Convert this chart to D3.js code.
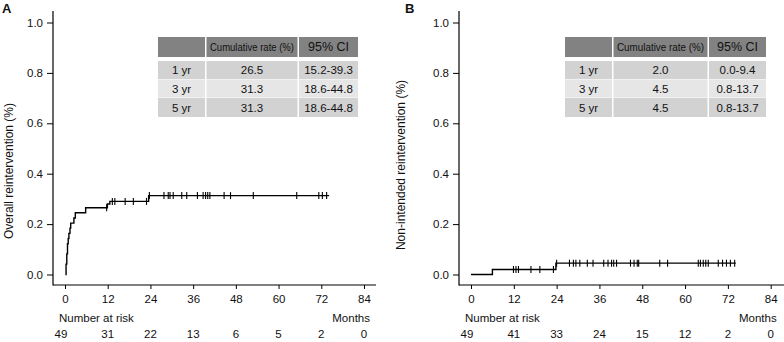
<!DOCTYPE html>
<html lang="en">
<head>
<meta charset="UTF-8">
<title>Cumulative reintervention</title>
<script src="https://d3js.org/d3.v7.min.js"></script>
<style>
    body {margin: 0; background: #fff;}
    svg {display: block;}
    text {font-family: "Liberation Sans", Arial, sans-serif; fill: #111;}
</style>
</head>
<body>
<script>
    const width = 784;
    const height = 342;

    // shared axes
    const monthTicks = [0, 12, 24, 36, 48, 60, 72, 84];
    const yTicks = [0, 0.2, 0.4, 0.6, 0.8, 1.0];
    const rowLabels = ["1 yr", "3 yr", "5 yr"];
    const tableHeader = ["", "Cumulative rate (%)", "95% CI"];

    // panel A - overall reintervention
    const eventTimesA = [0.1, 0.3, 0.5, 0.7, 0.9, 1.1, 1.4, 1.6, 2.5, 2.9, 5.8, 11.9, 12.6, 23.5];
    const cumIncA = [0, 0.041, 0.082, 0.122, 0.143, 0.163, 0.184, 0.204, 0.224, 0.245, 0.265, 0.28, 0.29, 0.313];
    const lastTimeA = 74.2;
    const censorA = [11.7, 13.3, 14.0, 16.9, 19.2, 22.9, 23.7, 27.8, 29.0, 29.5, 30.4, 32.8, 34.2, 37.2,
                     38.8, 39.5, 40.1, 40.7, 44.7, 46.5, 52.9, 65.1, 71.3, 72.3, 73.5];
    const riskA = [49, 31, 22, 13, 6, 5, 2, 0];
    const rateA = ["26.5", "31.3", "31.3"];
    const ciA = ["15.2-39.3", "18.6-44.8", "18.6-44.8"];

    // panel B - non-intended reintervention
    const eventTimesB = [0, 6.0, 23.8];
    const cumIncB = [0, 0.02, 0.045];
    const lastTimeB = 74.2;
    const censorB = [11.9, 12.6, 13.3, 16.8, 19.3, 23.1, 24.0, 27.6, 28.7, 29.4, 30.5, 32.6, 34.2, 37.2,
                     38.4, 39.4, 40.0, 40.8, 44.7, 45.7, 46.6, 47.0, 52.9, 55.1, 63.7, 64.3, 65.1, 65.8,
                     66.5, 69.3, 70.5, 71.6, 72.7, 73.9];
    const riskB = [49, 41, 33, 24, 15, 12, 2, 0];
    const rateB = ["2.0", "4.5", "4.5"];
    const ciB = ["0.0-9.4", "0.8-13.7", "0.8-13.7"];

    const svg = d3.select("body").append("svg")
            .attr("width", width).attr("height", height);

    const panels = [
        {letter: "A", left: 0, axisX: 53, x0: 65, x84: 364, axisEnd: 376,
         title: "Overall reintervention (%)", titleY: 171,
         times: eventTimesA, values: cumIncA, last: lastTimeA, censor: censorA, risk: riskA,
         rate: rateA, ci: ciA, tableX: 158, cols: [47, 91, 59]},
        {letter: "B", left: 392, axisX: 459, x0: 471, x84: 770.7, axisEnd: 784,
         title: "Non-intended reintervention (%)", titleY: 165,
         times: eventTimesB, values: cumIncB, last: lastTimeB, censor: censorB, risk: riskB,
         rate: rateB, ci: ciB, tableX: 565, cols: [47, 94, 57]}
    ];

    const y = d3.scaleLinear().domain([0, 1]).range([274.5, 22.5]);
    const axisY = 285;
    const fs = "11.5px";

    panels.forEach(drawPanel);

    function drawPanel(p) {
        const g = svg.append("g");
        const x = d3.scaleLinear().domain([0, 84]).range([p.x0, p.x84]);

        // panel letter
        g.append("text").attr("x", p.left + (p.letter == "A" ? 2 : 13)).attr("y", 13)
                .style("font-size", "13px").style("font-weight", "bold").text(p.letter);

        // y axis
        const ya = g.append("g").attr("transform", `translate(${p.axisX},0)`)
                .call(d3.axisLeft(y).tickValues(yTicks).tickFormat(d3.format(".1f"))
                        .tickSize(6).tickPadding(4));
        ya.select(".domain").remove();
        ya.selectAll("text").style("font-size", fs).style("font-family", "Liberation Sans, Arial, sans-serif")
                .attr("fill", "#111");
        g.append("line").attr("x1", p.axisX).attr("x2", p.axisX).attr("y1", 11).attr("y2", axisY + 0.5)
                .style("stroke", "#000").style("stroke-width", 1.2);

        // x axis
        const xa = g.append("g").attr("transform", `translate(0,${axisY})`)
                .call(d3.axisBottom(x).tickValues(monthTicks).tickSize(4).tickPadding(6));
        xa.select(".domain").remove();
        xa.selectAll("text").style("font-size", fs).style("font-family", "Liberation Sans, Arial, sans-serif")
                .attr("fill", "#111");
        g.append("line").attr("x1", p.axisX).attr("x2", p.axisEnd).attr("y1", axisY).attr("y2", axisY)
                .style("stroke", "#000").style("stroke-width", 1.2);

        // y title
        g.append("text")
                .attr("transform", `translate(${p.left + 13},${p.titleY}) rotate(-90)`)
                .attr("text-anchor", "middle")
                .style("font-size", "12px")
                .text(p.title);

        // number at risk
        g.append("text").attr("x", x(0) - 6).attr("y", 322).style("font-size", fs).text("Number at risk");
        g.append("text").attr("x", x(84) + 6).attr("y", 322).attr("text-anchor", "end")
                .style("font-size", fs).text("Months");
        g.selectAll("text.risk").data(p.risk).enter().append("text").attr("class", "risk")
                .attr("x", (d, i) => x(monthTicks[i]) - (i == 0 ? 4 : 0)).attr("y", 338)
                .attr("text-anchor", "middle").style("font-size", fs).text(d => d);

        // step curve
        const pts = p.times.map((t, i) => [t, p.values[i]]);
        pts.push([p.last, p.values[p.values.length - 1]]);
        const line = d3.line().x(d => x(d[0])).y(d => y(d[1])).curve(d3.curveStepAfter);
        g.append("path").datum(pts).attr("d", line)
                .style("fill", "none").style("stroke", "#000").style("stroke-width", 1.4);

        // censor marks
        const valueAt = t => {
            let v = 0;
            p.times.forEach((tt, i) => { if (tt <= t) v = p.values[i]; });
            return v;
        };
        g.selectAll("line.censor").data(p.censor).enter().append("line").attr("class", "censor")
                .attr("x1", d => x(d)).attr("x2", d => x(d))
                .attr("y1", d => y(valueAt(d)) - 3.5).attr("y2", d => y(valueAt(d)) + 3.5)
                .style("stroke", "#000").style("stroke-width", 1.1);

        // summary table
        const colX = [p.tableX, p.tableX + p.cols[0] + 1.5, p.tableX + p.cols[0] + p.cols[1] + 3];
        const rowY = [37, 61, 79.5, 98];
        const rowH = [20, 18, 18, 19];
        const rowFill = ["#828282", "#d2d2d2", "#e6e6e6", "#d2d2d2"];
        const cells = [tableHeader].concat(rowLabels.map((r, i) => [r, p.rate[i], p.ci[i]]));
        cells.forEach((row, ri) => {
            row.forEach((c, ci) => {
                g.append("rect").attr("x", colX[ci]).attr("y", rowY[ri])
                        .attr("width", p.cols[ci]).attr("height", rowH[ri])
                        .style("fill", rowFill[ri]);
                if (!c) return;
                const t = g.append("text").attr("x", colX[ci] + p.cols[ci] / 2)
                        .attr("y", rowY[ri] + rowH[ri] / 2 + 4)
                        .attr("text-anchor", "middle")
                        .style("font-size", ri == 0 && ci == 2 ? "12.5px" : fs)
                        .text(c);
                if (ri == 0 && ci == 1) {
                    t.style("font-size", "11.5px").attr("textLength", p.cols[1] - 7)
                            .attr("lengthAdjust", "spacingAndGlyphs");
                }
            });
        });
    }
</script>
</body>
</html>
